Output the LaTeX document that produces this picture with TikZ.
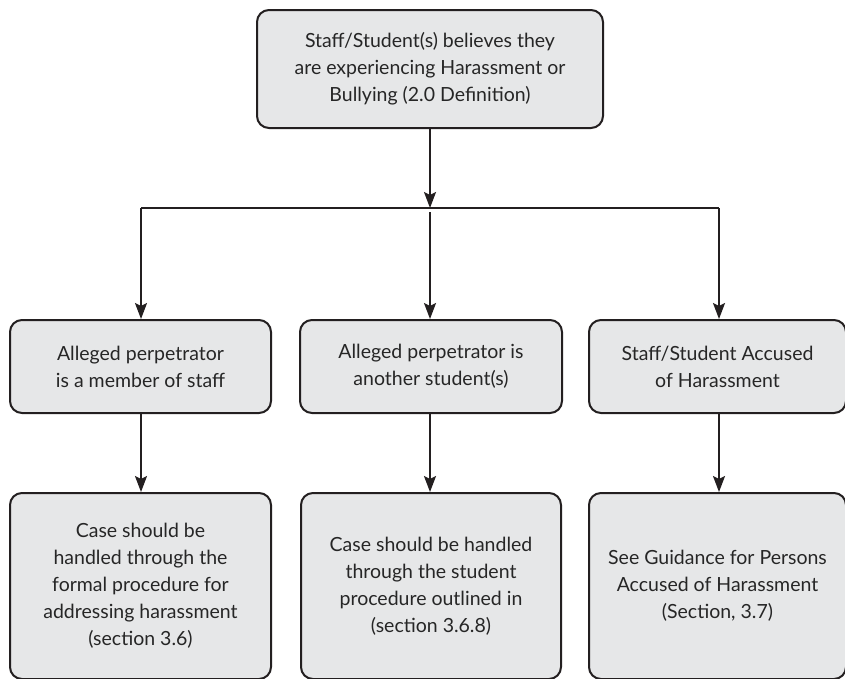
\documentclass[tikz,border=0pt]{standalone}
\usepackage{fontspec}
\setmainfont{Lato}
\usetikzlibrary{arrows.meta}
\definecolor{boxfill}{HTML}{E6E7E8}
\definecolor{boxline}{HTML}{231F20}
\definecolor{txt}{HTML}{262626}
\begin{document}
\begin{tikzpicture}[x=1pt,y=-1pt,
  flowbox/.style={draw=boxline, fill=boxfill, line width=2pt, rounded corners=12pt,
    align=center, text=txt, inner sep=0pt,
    font=\fontsize{19.5}{27}\selectfont},
  conn/.style={draw=boxline, line width=2pt,
    -{Stealth[length=16pt,width=12pt,inset=3pt]}},
  hline/.style={draw=boxline, line width=1.6pt}]
\useasboundingbox (0,0) rectangle (845,678);
\clip (0,0) rectangle (845,678);

\node[flowbox, minimum width=346pt, minimum height=118pt] (top) at (430,69)
  {Staff/Student(s) believes they\\are experiencing Harassment or\\Bullying (2.0 Definition)};

\node[flowbox, minimum width=261pt, minimum height=93pt] (m1) at (140.5,366.5)
  {Alleged perpetrator\\is a member of staff};
\node[flowbox, minimum width=262pt, minimum height=93pt] (m2) at (431,366.5)
  {Alleged perpetrator is\\another student(s)};
\node[flowbox, minimum width=257pt, minimum height=93pt] (m3) at (717.5,366.5)
  {Staff/Student Accused\\of Harassment};

\node[flowbox, minimum width=261pt, minimum height=186pt] (b1) at (140.5,586)
  {Case should be\\handled through the\\formal procedure for\\addressing harassment\\(section 3.6)};
\node[flowbox, minimum width=260pt, minimum height=186pt] (b2) at (431,586)
  {Case should be handled\\through the student\\procedure outlined in\\(section 3.6.8)};
\node[flowbox, minimum width=257pt, minimum height=186pt] (b3) at (717.5,586)
  {See Guidance for Persons\\Accused of Harassment\\(Section, 3.7)};

\coordinate (jc) at (430,208);
\coordinate (jl) at (141,208);
\coordinate (jr) at (719,208);
\coordinate (jm) at (430,212);

\draw[conn] (top.south -| jc) -- (jc);
\draw[hline] (jl) -- (jr);
\draw[conn] (jl) -- (jl |- m1.north);
\draw[conn] (jm) -- (jm |- m2.north);
\draw[conn] (jr) -- (jr |- m3.north);

\draw[conn] (m1.south -| jl) -- (jl |- b1.north);
\draw[conn] (m2.south -| jc) -- (jc |- b2.north);
\draw[conn] (m3.south -| jr) -- (jr |- b3.north);
\end{tikzpicture}
\end{document}
